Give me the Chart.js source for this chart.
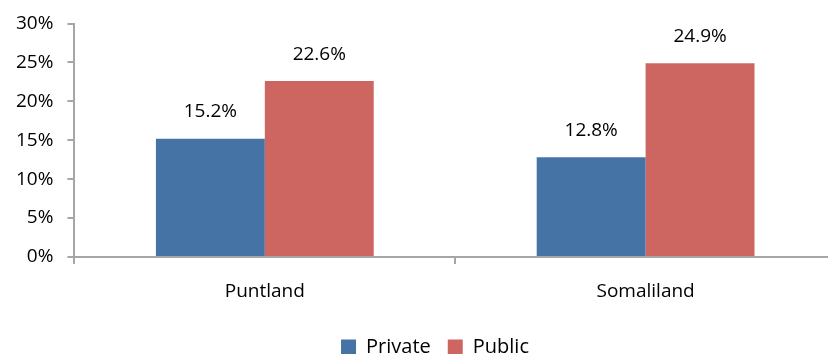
<!DOCTYPE html>
<html>
<head>
<meta charset="utf-8">
<script src="https://cdn.jsdelivr.net/npm/chart.js@4/dist/chart.umd.min.js"></script>
<style>
  html, body { margin: 0; padding: 0; background: #fff; overflow: hidden; }
  #wrap { width: 870px; height: 354px; }
</style>
</head>
<body>
<div id="wrap"><canvas id="bar-chart" width="870" height="354"></canvas></div>
<script>
const regions = ['Puntland', 'Somaliland'];
const privateValues = [15.2, 12.8];
const publicValues = [22.6, 24.9];
const yTicks = [0, 5, 10, 15, 20, 25, 30];

const axisGrey = '#a6a6a6';
const fontFamily = "'Open Sans', 'Noto Sans', sans-serif";
const fontSize = 19;

// rótulos de valor acima das barras
const valueLabels = {
    id: 'valueLabels',
    afterDatasetsDraw(chart) {
        const ctx = chart.ctx;
        ctx.save();
        ctx.font = fontSize + 'px ' + fontFamily;
        ctx.fillStyle = '#000';
        ctx.textAlign = 'center';
        ctx.textBaseline = 'middle';
        chart.data.datasets.forEach((ds, i) => {
            chart.getDatasetMeta(i).data.forEach((bar, j) => {
                ctx.fillText(ds.data[j].toFixed(1) + '%', bar.x, bar.y - 27);
            });
        });
        ctx.restore();
    }
};

// legenda centrada na largura original do gráfico
const legendShift = {
    id: 'legendShift',
    afterLayout(chart) {
        chart.legend.left += 16;
        chart.legend.right += 16;
    }
};

const ctx = document.getElementById('bar-chart').getContext('2d');
new Chart(ctx, {
    type: 'bar',
    data: {
        labels: regions,
        datasets: [
            { label: 'Private', data: privateValues, backgroundColor: '#4673a5' },
            { label: 'Public', data: publicValues, backgroundColor: '#cd6660' }
        ]
    },
    options: {
        responsive: false,
        animation: false,
        devicePixelRatio: 1,
        categoryPercentage: 0.572,
        barPercentage: 1,
        layout: { padding: { top: 0, left: 2, right: 34, bottom: -13 } },
        scales: {
            x: {
                afterFit: axis => { axis.height = 63; },
                grid: { display: true, drawOnChartArea: false, drawTicks: true, tickLength: 7, color: axisGrey, lineWidth: 2 },
                border: { color: axisGrey, width: 2 },
                ticks: { color: '#000', font: { size: fontSize, family: fontFamily }, padding: 16 }
            },
            y: {
                min: 0,
                max: 30,
                afterBuildTicks: axis => { axis.ticks = yTicks.map(v => ({ value: v })); },
                grid: { display: true, drawOnChartArea: false, drawTicks: true, tickLength: 7, color: axisGrey, lineWidth: 2 },
                border: { color: axisGrey, width: 2 },
                ticks: {
                    color: '#000',
                    font: { size: fontSize, family: fontFamily, lineHeight: 1 },
                    padding: 14,
                    callback: v => v + '%'
                }
            }
        },
        plugins: {
            legend: {
                position: 'bottom',
                labels: {
                    boxWidth: 15,
                    boxHeight: 15,
                    color: '#000',
                    font: { size: 20, family: fontFamily },
                    padding: 17
                }
            },
            tooltip: { enabled: false }
        }
    },
    plugins: [valueLabels, legendShift]
});
</script>
</body>
</html>
